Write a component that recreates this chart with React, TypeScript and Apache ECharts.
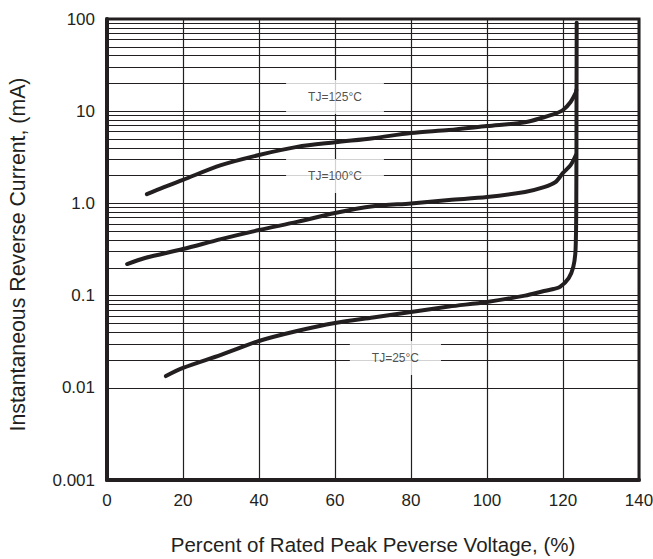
import React, { useEffect, useRef } from "react";
import * as echarts from "echarts";

const INK = "#231f20";

// Percent of rated peak reverse voltage (x) and instantaneous reverse current, mA (y)
const t25X = [15.5, 20, 30, 40, 50, 60, 70, 80, 90, 100, 110, 115, 117.5, 119.2, 121.5, 122.7, 123.3, 123.5, 123.55, 123.6];
const t25Y = [0.0134, 0.0164, 0.0227, 0.0322, 0.0413, 0.0505, 0.058, 0.0664, 0.076, 0.0853, 0.1, 0.112, 0.118, 0.124, 0.155, 0.204, 0.313, 1.09, 10, 91];

const t100X = [5.3, 10, 20, 30, 40, 50, 60, 70, 80, 90, 100, 110, 115, 118, 120, 122, 123.4];
const t100Y = [0.22, 0.256, 0.32, 0.41, 0.514, 0.63, 0.787, 0.93, 1.0, 1.09, 1.17, 1.33, 1.5, 1.7, 2.14, 2.6, 3.35];

const t125X = [10.5, 15, 20, 30, 40, 50, 60, 70, 80, 90, 100, 110, 115, 118, 120, 122, 123.3, 123.5];
const t125Y = [1.26, 1.5, 1.8, 2.6, 3.35, 4.1, 4.6, 5.1, 5.8, 6.25, 6.9, 7.6, 8.6, 9.4, 10.3, 12.6, 15.7, 17];

// Curve labels
const labelX = [60, 60, 75.9];
const labelY = [14.3, 1.98, 0.021];
const labelText = ["TJ=125°C", "TJ=100°C", "TJ=25°C"];

// Log grid
const decades = [0.001, 0.01, 0.1, 1, 10];
const multipliers = [1, 2, 3, 4, 5, 6, 7, 8, 9];
const yTickLabels: Record<string, string> = {
  "0.001": "0.001",
  "0.01": "0.01",
  "0.1": "0.1",
  "1": "1.0",
  "10": "10",
  "100": "100",
};

const xTitle = "Percent of Rated Peak Peverse Voltage, (%)";
const yTitle = "Instantaneous Reverse Current, (mA)";

export default function App() {
  const ref = useRef<HTMLDivElement>(null);
  useEffect(() => {
    if (!ref.current) return;
    const chart = echarts.init(ref.current, undefined, { renderer: "svg" });
    const gridValues: number[] = [];
    decades.forEach((d) => multipliers.forEach((m) => gridValues.push(+(d * m).toPrecision(3))));
    gridValues.push(100);

    const zip = (xs: number[], ys: number[]) => xs.map((x, i) => [x, ys[i]]);
    const curve = (name: string, xs: number[], ys: number[]) => ({
      name,
      type: "line",
      data: zip(xs, ys),
      showSymbol: false,
      symbol: "none",
      smooth: 0.3,
      z: 5,
      lineStyle: { color: INK, width: 4, cap: "round", join: "round" },
    });

    chart.setOption({
      animation: false,
      backgroundColor: "#fff",
      textStyle: { fontFamily: "Liberation Sans, Arial, sans-serif" },
      grid: {
        left: 107,
        top: 19,
        width: 532,
        height: 461,
        outerBoundsMode: "none",
        containLabel: false,
        show: true,
        borderColor: INK,
        borderWidth: 3,
        backgroundColor: "transparent",
      },
      xAxis: {
        type: "value",
        min: 0,
        max: 140,
        interval: 20,
        name: xTitle,
        nameLocation: "middle",
        nameGap: 54,
        nameTextStyle: { fontSize: 20.5, color: INK },
        axisLine: { show: true, onZero: false, lineStyle: { color: INK, width: 4 } },
        axisTick: { show: false },
        axisLabel: { fontSize: 17, color: INK, margin: 12 },
        splitLine: { show: true, lineStyle: { color: INK, width: 1.2 } },
      },
      yAxis: {
        type: "log",
        logBase: 10,
        min: 0.001,
        max: 100,
        name: yTitle,
        nameLocation: "middle",
        nameGap: 79,
        nameRotate: 90,
        nameTextStyle: { fontSize: 21.3, color: INK, padding: [0, 10, 0, 0] },
        axisLine: { show: true, lineStyle: { color: INK, width: 4 } },
        axisTick: { show: false },
        axisLabel: {
          fontSize: 17,
          color: INK,
          margin: 12,
          formatter: (v: number) => yTickLabels[String(+v.toPrecision(3))] ?? "",
        },
        splitLine: { show: false },
      },
      series: [
        {
          name: "grid",
          type: "line",
          data: [],
          z: 1,
          markLine: {
            silent: true,
            symbol: "none",
            z: 1,
            animation: false,
            label: { show: false },
            lineStyle: { color: INK, width: 1.2, type: "solid" },
            data: gridValues.map((v) => ({ yAxis: v })),
          },
        },
        {
          name: "labels",
          type: "scatter",
          z: 3,
          symbolSize: 1,
          itemStyle: { color: "rgba(0,0,0,0)" },
          data: labelX.map((x, i) => [x, labelY[i], labelText[i]]),
          label: {
            show: true,
            position: "inside",
            formatter: (p: any) => p.data[2],
            fontSize: 12,
            color: INK,
            backgroundColor: "#fff",
            padding: [11, 22],
          },
        },
        curve("TJ=25°C", t25X, t25Y),
        curve("TJ=100°C", t100X, t100Y),
        curve("TJ=125°C", t125X, t125Y),
      ],
    });
    return () => chart.dispose();
  }, []);
  return (
    <div
      ref={ref}
      style={{ position: "absolute", left: 0, top: 0, width: 653, height: 559 }}
    />
  );
}
